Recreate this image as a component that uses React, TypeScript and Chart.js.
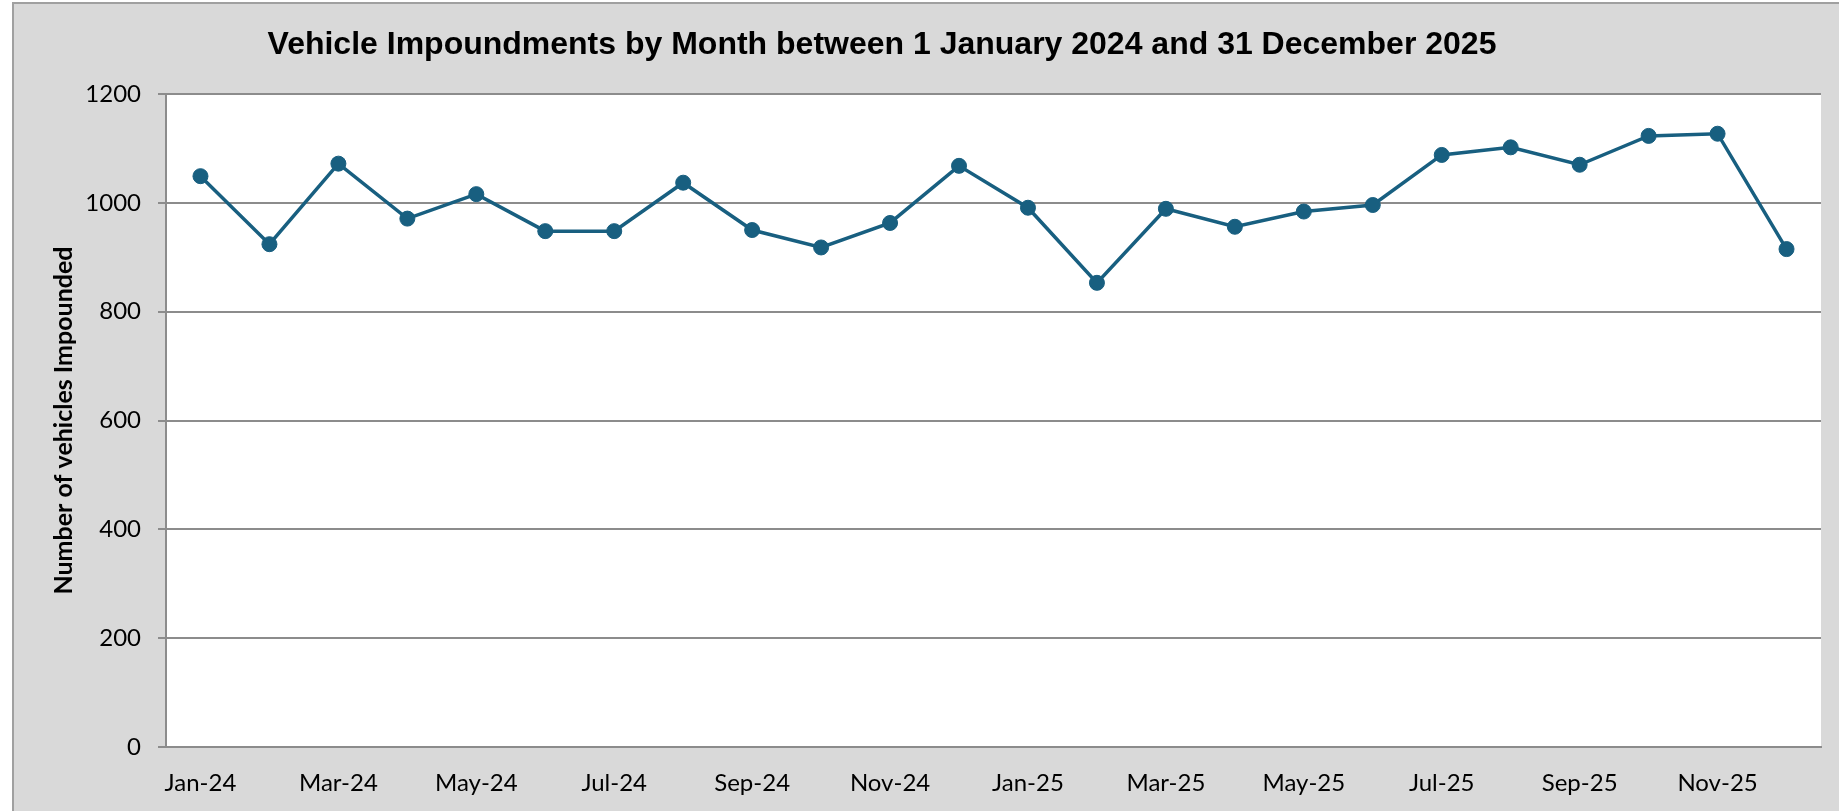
import React, { useEffect, useRef } from "react";
import { Chart, registerables } from "chart.js";

Chart.register(...registerables);

const chartTitle = "Vehicle Impoundments by Month between 1 January 2024 and 31 December 2025";
const yAxisTitle = "Number of vehicles Impounded";
const months = [
  "Jan-24", "Feb-24", "Mar-24", "Apr-24", "May-24", "Jun-24",
  "Jul-24", "Aug-24", "Sep-24", "Oct-24", "Nov-24", "Dec-24",
  "Jan-25", "Feb-25", "Mar-25", "Apr-25", "May-25", "Jun-25",
  "Jul-25", "Aug-25", "Sep-25", "Oct-25", "Nov-25", "Dec-25",
];
const impounded = [
  1049, 924, 1072, 971, 1016, 948, 948, 1037, 950, 918, 963, 1068,
  991, 853, 989, 956, 984, 996, 1088, 1102, 1070, 1123, 1127, 915,
];
const yMin = 0;
const yMax = 1200;
const yStep = 200;

const LINE = "#185f80";
const GRID = "#8c8c8c";
const BG = "#d9d9d9";

const backgroundPlugin = {
  id: "bgPlugin",
  beforeDraw(chart: any) {
    const { ctx, width, height, chartArea } = chart;
    ctx.save();
    ctx.fillStyle = "#ffffff";
    ctx.fillRect(0, 0, width, height);
    ctx.fillStyle = BG;
    ctx.fillRect(13, 3, width - 13, height - 3);
    ctx.strokeStyle = "#a0a0a0";
    ctx.lineWidth = 2;
    ctx.beginPath();
    ctx.moveTo(13, height);
    ctx.lineTo(13, 3);
    ctx.lineTo(width, 3);
    ctx.stroke();
    ctx.fillStyle = "#ffffff";
    ctx.fillRect(chartArea.left, chartArea.top, chartArea.right - chartArea.left, chartArea.bottom - chartArea.top);
    ctx.restore();
  },
};

const titleShiftPlugin = {
  id: "titleShift",
  afterLayout(chart: any) {
    const tb = chart.titleBlock;
    if (!tb) return;
    const center = (tb.left + tb.right) / 2;
    const shift = 882 - center;
    tb.left += shift;
    tb.right += shift;
  },
};

export default function App() {
  const ref = useRef<HTMLCanvasElement | null>(null);

  useEffect(() => {
    if (!ref.current) return;
    const chart = new Chart(ref.current, {
      type: "line",
      data: {
        labels: months,
        datasets: [
          {
            label: "Impounded",
            data: impounded,
            borderColor: LINE,
            backgroundColor: LINE,
            borderWidth: 3.5,
            pointRadius: 7.5,
            pointBorderWidth: 1,
            pointBackgroundColor: LINE,
            pointBorderColor: LINE,
            tension: 0,
          },
        ],
      },
      options: {
        responsive: false,
        animation: false,
        devicePixelRatio: 1,
        layout: { padding: { left: 0, right: 18, top: 0, bottom: 0 } },
        plugins: {
          legend: { display: false },
          tooltip: { enabled: false },
          title: {
            display: true,
            text: chartTitle,
            color: "#000000",
            font: { family: "'Liberation Sans', Arial, sans-serif", size: 32, weight: "bold", lineHeight: 1.2 },
            padding: { top: 26, bottom: 29.6 },
          },
        },
        scales: {
          x: {
            type: "category",
            offset: true,
            grid: { display: false, drawTicks: false, tickLength: 0 },
            border: { display: true, color: GRID, width: 2 },
            ticks: {
              autoSkip: false,
              maxRotation: 0,
              minRotation: 0,
              padding: 22,
              color: "#000000",
              font: { family: "Lato, sans-serif", size: 24 },
              callback: (_v: any, i: number) => (i % 2 === 0 ? months[i] : ""),
            },
            afterFit: (scale: any) => {
              scale.height = 64;
            },
          },
          y: {
            min: yMin,
            max: yMax,
            grid: { color: GRID, lineWidth: 2, drawTicks: true, tickLength: 8 },
            border: { display: true, color: GRID, width: 2 },
            ticks: {
              stepSize: yStep,
              padding: 17,
              color: "#000000",
              font: { family: "Lato, sans-serif", size: 24 },
              callback: (v: any) => String(v),
            },
            title: {
              display: true,
              text: yAxisTitle,
              color: "#000000",
              font: { family: "Lato, sans-serif", size: 25, weight: "bold", lineHeight: 1.2 },
              padding: { top: 49, bottom: 0 },
            },
            afterFit: (scale: any) => {
              scale.width = 166;
            },
          },
        },
      },
      plugins: [backgroundPlugin, titleShiftPlugin],
    });
    return () => chart.destroy();
  }, []);

  return (
    <div style={{ position: "fixed", left: 0, top: 0, width: 1839, height: 811 }}>
      <canvas ref={ref} width={1839} height={811} style={{ display: "block", width: 1839, height: 811 }} />
    </div>
  );
}
